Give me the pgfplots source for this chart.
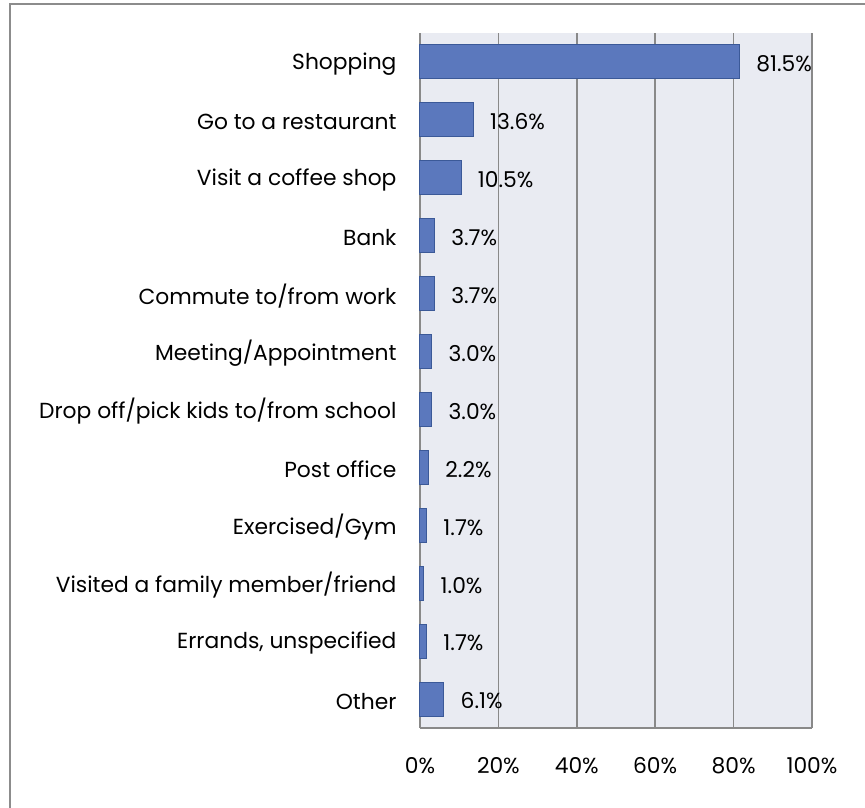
\documentclass[border=0pt]{standalone}
\usepackage{pgfplots}
\pgfplotsset{compat=1.18}
\usepackage{fontspec}
\setmainfont{Poppins}
\definecolor{barfill}{RGB}{91,120,189}
\definecolor{baredge}{RGB}{59,89,152}
\definecolor{plotbg}{RGB}{233,235,242}
\definecolor{gridc}{RGB}{137,137,137}
\definecolor{framec}{RGB}{140,140,140}
\begin{document}
\begin{tikzpicture}[x=1pt,y=1pt]
\useasboundingbox (-420,-79) rectangle (445,728);
\begin{axis}[
  at={(0,0)}, anchor=south west,
  scale only axis, width=392pt, height=695pt,
  xbar, bar width=34pt,
  xmin=0, xmax=100,
  ymin=-0.5, ymax=11.5, y dir=reverse,
  ytick={0,...,11},
  yticklabels={Shopping,{Go to a restaurant},{Visit a coffee shop},Bank,{Commute to/from work},{Meeting/Appointment},{Drop off/pick kids to/from school},{Post office},{Exercised/Gym},{Visited a family member/friend},{Errands, unspecified},Other},
  xtick={0,20,40,60,80,100},
  xticklabels={0\%,20\%,40\%,60\%,80\%,100\%},
  major tick length=0pt,
  /pgf/number format/assume math mode=true,
  tick label style={font=\fontsize{21.8}{25}\selectfont},
  xticklabel style={yshift=-26pt},
  yticklabel style={xshift=-20pt, yshift=-2pt},
  axis x line*=bottom, axis y line*=left,
  axis line style={draw=gridc, line width=1.5pt},
  xmajorgrids, grid style={draw=gridc, line width=1.5pt},
  axis background/.style={fill=plotbg},
  nodes near coords={\pgfmathprintnumber[fixed,precision=1,fixed zerofill,assume math mode=true]{\pgfplotspointmeta}\%},
  every node near coord/.append style={font=\fontsize{21.8}{25}\selectfont, anchor=west, xshift=13pt, yshift=-2pt, text=black},
  clip=false,
]
\addplot[fill=barfill, draw=baredge, line width=1pt] coordinates {
(81.5,0) (13.6,1) (10.5,2) (3.7,3) (3.7,4) (3.0,5) (3.0,6) (2.2,7) (1.7,8) (1.0,9) (1.7,10) (6.1,11)
};
\end{axis}
\draw[framec, line width=1.5pt] (-410,-100) -- (-410,724) -- (470,724);
\end{tikzpicture}
\end{document}
